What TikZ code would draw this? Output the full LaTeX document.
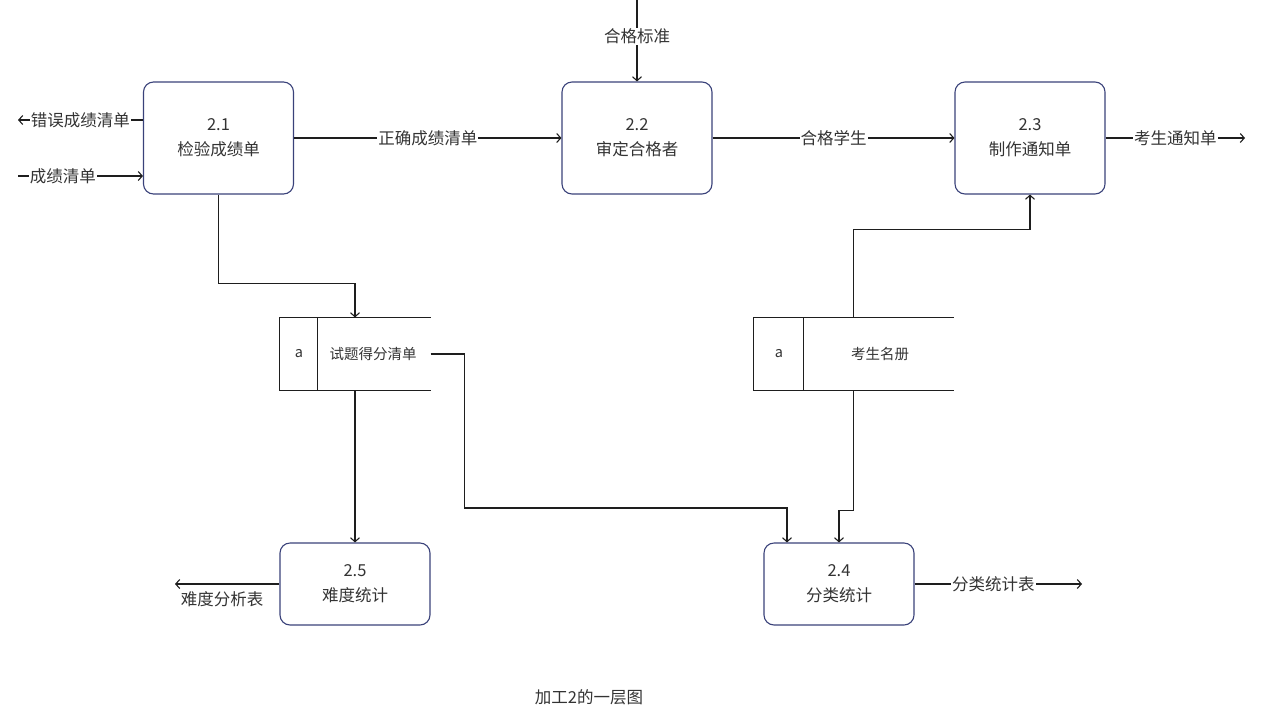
\documentclass[tikz,border=0pt]{standalone}
\usepackage{fontspec}
\newfontfamily\cjk{Noto Sans CJK SC}
\usetikzlibrary{arrows.meta}
\definecolor{boxline}{RGB}{58,66,122}
\definecolor{txt}{RGB}{51,51,51}
\definecolor{wire}{RGB}{30,30,30}

\begin{document}
\begin{tikzpicture}[x=1pt, y=-1pt, line width=1.1pt,
    proc/.style={draw=boxline, rounded corners=10pt, minimum width=150pt, minimum height=112pt,
      align=center, text=txt, font=\cjk\fontsize{16.5}{25}\selectfont},
    store/.style={minimum height=72pt, inner sep=0pt},
    storetext/.style={text=txt, font=\cjk\fontsize{14.5}{18}\selectfont},
    flow/.style={draw=wire, -{Straight Barb[length=4pt, width=9pt]}},
    lbl/.style={fill=white, text=txt, inner sep=1pt, font=\cjk\fontsize{16.5}{20}\selectfont}]
  \useasboundingbox (0, 0) rectangle (1274, 713);

  \node [proc] (p21) at (218.5, 138) {2.1\\检验成绩单};
  \node [proc] (p22) at (637, 138) {2.2\\审定合格者};
  \node [proc] (p23) at (1030, 138) {2.3\\制作通知单};
  \node [proc, minimum height=82pt] (p25) at (355, 584) {2.5\\难度统计};
  \node [proc, minimum height=82pt] (p24) at (839, 584) {2.4\\分类统计};

  \node [store, minimum width=150pt] (s1) at (355, 354) {};
  \draw [wire] (s1.north east) -- (s1.north west) -- (s1.south west) -- (s1.south east);
  \draw [wire] ([xshift=38pt]s1.north west) -- ([xshift=38pt]s1.south west);
  \node [storetext] (s1a) at (299, 354) {a};
  \node [storetext] (s1t) at (373, 354) {试题得分清单};

  \node [store, minimum width=199pt] (s2) at (853.5, 354) {};
  \draw [wire] (s2.north east) -- (s2.north west) -- (s2.south west) -- (s2.south east);
  \draw [wire] ([xshift=50pt]s2.north west) -- ([xshift=50pt]s2.south west);
  \node [storetext] (s2a) at (779, 354) {a};
  \node [storetext] (s2t) at (880, 354) {考生名册};

  \coordinate (errout) at (18, 120);
  \coordinate (scorein) at (18, 176);
  \coordinate (stdin) at (637, 0);
  \coordinate (noticeout) at (1245, 138);
  \coordinate (diffout) at (175, 584);
  \coordinate (classout) at (1082, 584);

  \draw [flow] (p21.west |- errout) -- (errout) node [lbl, midway] {错误成绩清单};
  \draw [flow] (scorein) -- (scorein -| p21.west) node [lbl, pos=0.36] {成绩清单};
  \draw [flow] (p21) -- (p22) node [lbl, midway] {正确成绩清单};
  \draw [flow] (stdin) -- (p22) node [lbl, pos=0.45] {合格标准};
  \draw [flow] (p22) -- (p23) node [lbl, midway] {合格学生};
  \draw [flow] (p23.east) -- (noticeout) node [lbl, midway] {考生通知单};
  \draw [flow] (p21.south) -- ++(0, 89) -| (s1.north);
  \draw [flow] (s1.south) -- (p25.north);
  \draw [flow] (s1.east) -- ++(34, 0) -- ++(0, 154) -| ([xshift=-52pt]p24.north);
  \draw [flow] (s2.north) -- ++(0, -88) -| (p23.south);
  \draw [flow] (s2.south) -- ++(0, 120) -| (p24.north);
  \draw [flow] (p25) -- (diffout) node [lbl, pos=0.55, below=6pt] {难度分析表};
  \draw [flow] (p24) -- (classout) node [lbl, pos=0.47] {分类统计表};

  \node [text=txt, font=\cjk\fontsize{16.5}{20}\selectfont] (cap) at (589, 697) {加工2的一层图};
\end{tikzpicture}
\end{document}
